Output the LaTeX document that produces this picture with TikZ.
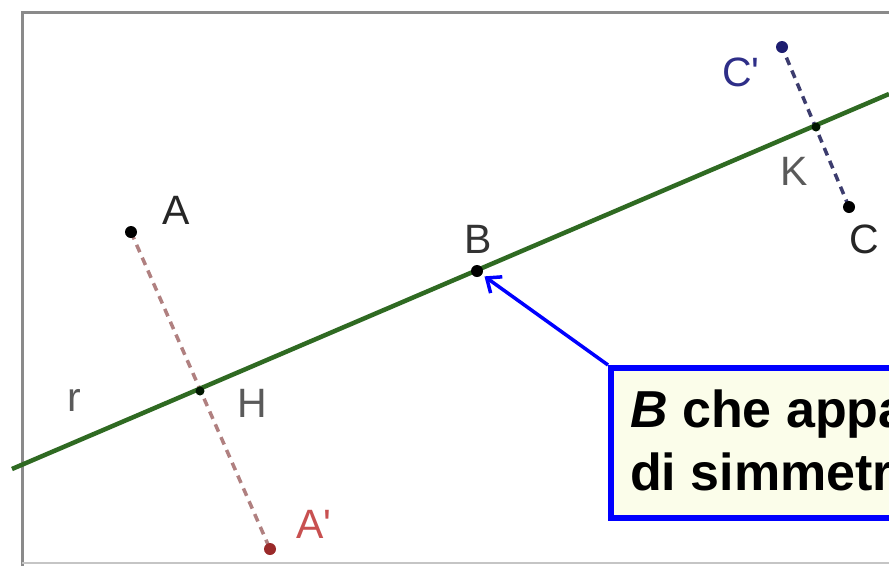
\documentclass[tikz,border=0pt]{standalone}
\usepackage{fontspec}
\setmainfont{Liberation Sans}
\usetikzlibrary{arrows.meta}
\definecolor{lineg}{HTML}{2F6A22}
\definecolor{framec}{HTML}{8A8A8A}
\definecolor{boxfill}{HTML}{FBFDEA}
\definecolor{dashA}{HTML}{B08080}
\definecolor{dashC}{HTML}{3C3C6E}
\definecolor{redpt}{HTML}{9A2A2A}
\definecolor{redlab}{HTML}{C85050}
\definecolor{bluept}{HTML}{1E1E70}
\definecolor{bluelab}{HTML}{2E2E88}
\definecolor{graylab}{HTML}{5A5A5A}
\tikzset{
  pt/.style={circle, fill=#1, inner sep=0pt, minimum size=12pt},
  smallpt/.style={circle, fill=#1, inner sep=0pt, minimum size=9pt},
  lab/.style={text=#1, font=\fontsize{41}{44}\selectfont, inner sep=0pt},
  dashseg/.style={draw=#1, line width=3.5pt, dash pattern=on 8pt off 6pt},
  callout/.style={draw=blue, line width=6pt, fill=boxfill, inner sep=0pt, anchor=north west, minimum width=320pt, minimum height=150pt},
  boxtext/.style={font=\fontsize{52}{60}\selectfont\bfseries, anchor=base west, inner sep=0pt},
}
\begin{document}
\begin{tikzpicture}[x=1pt,y=-1pt]
\useasboundingbox (0,0) rectangle (889,566);
\fill[white] (0,0) rectangle (889,566);
\clip (0,0) rectangle (889,566);
% frame
\draw[framec, line width=3pt] (22,566) -- (22,12) -- (895,12);
\draw[framec!50, line width=1.5pt] (22,563) -- (895,563);
% coordinates
\coordinate (r1) at (12,469);
\coordinate (r2) at (889,94);
\coordinate (Ac) at (131,232);
\coordinate (A2c) at (270,549);
\coordinate (Cc) at (849,207);
\coordinate (C2c) at (782,47);
\draw[dashseg=dashA] (Ac) -- (A2c);
\draw[dashseg=dashC] (Cc) -- (C2c);
% line r
\draw[lineg, line width=4.5pt] (r1) -- (r2);
% points
\node[pt=black] (A) at (Ac) {};
\node[pt=redpt] (A2) at (A2c) {};
\node[pt=black] (C) at (Cc) {};
\node[pt=bluept] (C2) at (C2c) {};
\node[smallpt=black!70!green!30!black] (H) at (200,391) {};
\node[smallpt=black!70!green!30!black] (K) at (816,127) {};
\node[pt=black] (B) at (477,271) {};
% labels
\node[lab=black!85] (lA) at (176,210) {A};
\node[lab=redlab] (lA2) at (314,524) {A\textquotesingle};
\node[lab=graylab] (lH) at (252,403) {H};
\node[lab=graylab] (lr) at (74,400) {r};
\node[lab=black!80] (lB) at (478,239) {B};
\node[lab=black!85] (lC) at (864,239) {C};
\node[lab=bluelab] (lC2) at (741,72) {C\textquotesingle};
\node[lab=graylab] (lK) at (794,171) {K};
% callout
\node[callout] (box) at (608,365) {};
\draw[blue, line width=3.5pt, -{Straight Barb[length=12pt,width=20pt,line width=3.5pt]}, shorten >=3pt] (box.north west) -- (B);
\node[callout, fill=none] at (608,365) {};
\node[boxtext] (t1) at (630,427) {\textit{B} che appa};
\node[boxtext] (t2) at (630,490) {di simmetr};
\end{tikzpicture}
\end{document}
